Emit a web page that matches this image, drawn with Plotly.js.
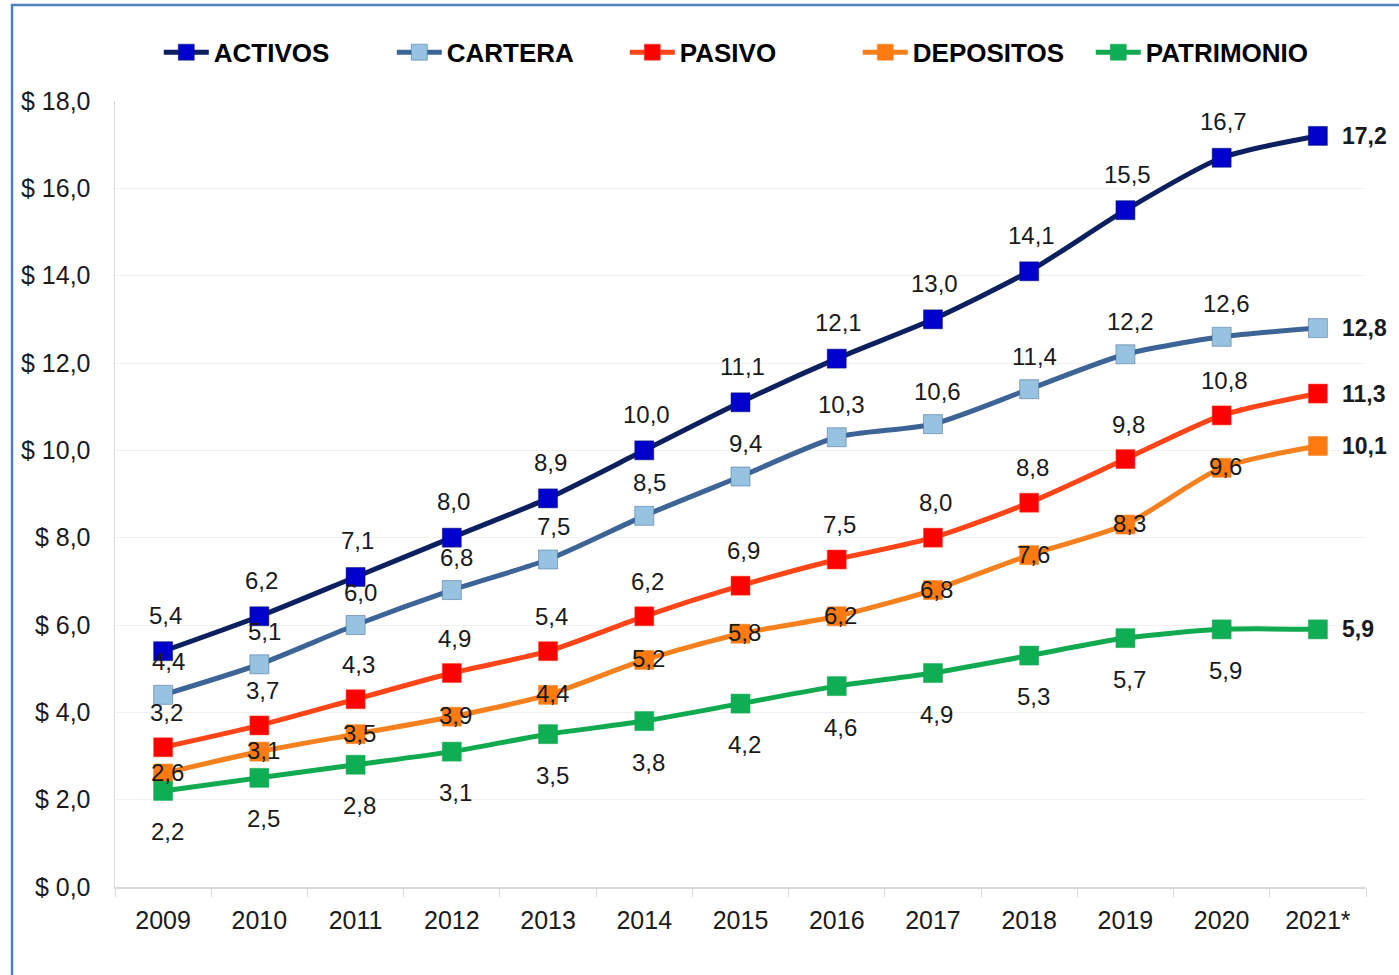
<!DOCTYPE html>
<html>
<head>
<meta charset="utf-8">
<script src="https://cdn.plot.ly/plotly-3.0.1.min.js"></script>
<style>
  html, body { margin: 0; padding: 0; background: #fff; }
  #chart { width: 1399px; height: 975px; }
</style>
</head>
<body>
<div id="chart"></div>
<script>
var years = ['2009', '2010', '2011', '2012', '2013', '2014', '2015', '2016', '2017', '2018', '2019', '2020', '2021*'];

var activos    = [5.4, 6.2, 7.1, 8.0, 8.9, 10.0, 11.1, 12.1, 13.0, 14.1, 15.5, 16.7, 17.2];
var cartera    = [4.4, 5.1, 6.0, 6.8, 7.5, 8.5, 9.4, 10.3, 10.6, 11.4, 12.2, 12.6, 12.8];
var pasivo     = [3.2, 3.7, 4.3, 4.9, 5.4, 6.2, 6.9, 7.5, 8.0, 8.8, 9.8, 10.8, 11.3];
var depositos  = [2.6, 3.1, 3.5, 3.9, 4.4, 5.2, 5.8, 6.2, 6.8, 7.6, 8.3, 9.6, 10.1];
var patrimonio = [2.2, 2.5, 2.8, 3.1, 3.5, 3.8, 4.2, 4.6, 4.9, 5.3, 5.7, 5.9, 5.9];

var yTicks = [0, 2, 4, 6, 8, 10, 12, 14, 16, 18];

var FONT = 'Liberation Sans, Arial, sans-serif';

function fmt(v) {
    return v.toFixed(1).replace('.', ',');
}

function serie(name, vals, lineColor, markerColor) {
    return {
        x: years,
        y: vals,
        name: name,
        type: 'scatter',
        mode: 'lines+markers',
        line: { color: lineColor, width: 5, shape: 'spline', smoothing: 0.7 },
        marker: { symbol: 'square', size: 19, color: markerColor,
                  line: { color: lineColor, width: 0.5 } },
        cliponaxis: false
    };
}

// value labels: shift in px from the marker, last one bold on the right
// (x given as category index, '2009' would be read as a number)
function valueLabels(vals, dx, dy) {
    return vals.map(function(v, i) {
        var last = i === vals.length - 1;
        return {
            x: i, y: v, xref: 'x', yref: 'y',
            text: last ? '<b>' + fmt(v) + '</b>' : fmt(v),
            showarrow: false,
            xanchor: last ? 'left' : 'center',
            yanchor: 'middle',
            xshift: last ? 22 : dx,
            yshift: last ? 0 : dy,
            font: { family: FONT, size: last ? 23 : 24, color: '#1a1a1a' }
        };
    });
}

var data = [
    serie('ACTIVOS', activos, '#0c1f5e', '#0000cc'),
    serie('CARTERA', cartera, '#3d6496', '#97c3e0'),
    serie('PASIVO', pasivo, '#ff4418', '#ff0000'),
    serie('DEPOSITOS', depositos, '#f5801e', '#ff7a10'),
    serie('PATRIMONIO', patrimonio, '#12aa50', '#0fae55')
];

var annotations = []
    .concat(valueLabels(activos, 2, 36))
    .concat(valueLabels(cartera, 5, 33))
    .concat(valueLabels(pasivo, 3, 35))
    .concat(valueLabels(depositos, 4, 1))
    .concat(valueLabels(patrimonio, 4, -41));

var layout = {
    width: 1399,
    height: 975,
    paper_bgcolor: '#ffffff',
    plot_bgcolor: '#ffffff',
    margin: { l: 115, r: 33, t: 101, b: 88 },
    font: { family: FONT, color: '#1a1a1a' },
    showlegend: true,
    legend: {
        orientation: 'h',
        x: 0.035, xanchor: 'left',
        y: 1.062, yanchor: 'middle',
        entrywidth: 173,
        itemwidth: 45,
        font: { size: 26, weight: 'bold', color: '#000' },
        bgcolor: 'rgba(0,0,0,0)'
    },
    xaxis: {
        type: 'category',
        range: [-0.5, 12.5],
        showline: true,
        linecolor: '#d9d9d9',
        linewidth: 1.5,
        ticks: 'outside',
        tickson: 'boundaries',
        ticklen: 8,
        tickcolor: '#d9d9d9',
        showgrid: false,
        ticklabelstandoff: 10,
        tickfont: { size: 25, color: '#1a1a1a' },
        fixedrange: true
    },
    yaxis: {
        range: [0, 18],
        tickvals: yTicks,
        ticktext: yTicks.map(function(v) { return '$ ' + fmt(v); }),
        showline: true,
        linecolor: '#d9d9d9',
        linewidth: 1.5,
        showgrid: true,
        gridcolor: '#f2f2f2',
        zeroline: false,
        ticks: '',
        ticklabelstandoff: 18,
        tickfont: { size: 25, color: '#1a1a1a' },
        fixedrange: true
    },
    annotations: annotations,
    shapes: [
        {
            type: 'rect', xref: 'paper', yref: 'paper',
            x0: -0.0823, x1: 1.1, y0: -0.2, y1: 1.122,
            line: { color: '#4f81bd', width: 2.5 },
            fillcolor: 'rgba(0,0,0,0)', layer: 'below'
        }
    ]
};

Plotly.newPlot('chart', data, layout, { displayModeBar: false, staticPlot: true });
</script>
</body>
</html>
